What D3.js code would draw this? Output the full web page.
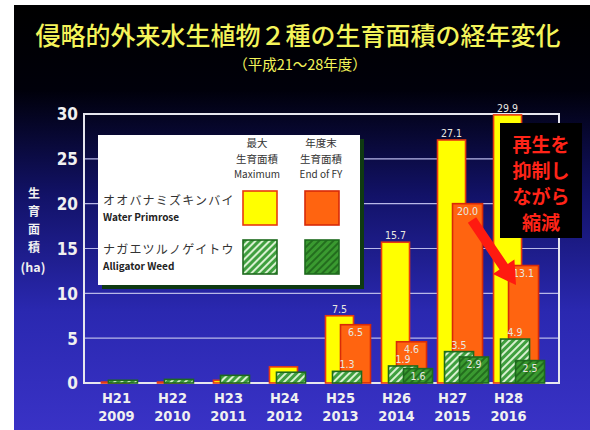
<!DOCTYPE html>
<html>
<head>
<meta charset="utf-8">
<script src="https://cdn.jsdelivr.net/npm/d3@7"></script>
<style>
  body { margin: 0; background: #fff; }
  svg { display: block; }
</style>
</head>
<body>
<svg class="chart"></svg>
<script>
// data
const categories = ["H21", "H22", "H23", "H24", "H25", "H26", "H27", "H28"];
const years = ["2009", "2010", "2011", "2012", "2013", "2014", "2015", "2016"];
const primroseMax = [0.1, 0.1, 0.3, 1.8, 7.5, 15.7, 27.1, 29.9];
const primroseEnd = [null, null, null, null, 6.5, 4.6, 20.0, 13.1];
const weedMax = [0.3, 0.4, 0.85, 1.2, 1.3, 1.9, 3.5, 4.9];
const weedEnd = [null, null, null, null, null, 1.6, 2.9, 2.5];
const yTicks = [0, 5, 10, 15, 20, 25, 30];
const labelFrom = 4; // value labels only shown from H25

const width = 590, height = 430;
const jp = '"Noto Sans CJK JP", sans-serif';
const num = '"DejaVu Sans Condensed", "Liberation Sans Narrow", sans-serif';

const svg = d3.select(".chart").attr("width", width).attr("height", height);
const defs = svg.append("defs");

let bg = defs.append("linearGradient").attr("id", "bg")
  .attr("x1", 0).attr("y1", 0).attr("x2", 0).attr("y2", 1);
bg.append("stop").attr("offset", "0").attr("stop-color", "#000000");
bg.append("stop").attr("offset", "0.2").attr("stop-color", "#00000a");
bg.append("stop").attr("offset", "0.45").attr("stop-color", "#121268");
bg.append("stop").attr("offset", "0.72").attr("stop-color", "#2a28b0");
bg.append("stop").attr("offset", "1").attr("stop-color", "#3932c6");

// hatch patterns
let makeHatch = function(id, base, stripe) {
  let p = defs.append("pattern").attr("id", id)
    .attr("patternUnits", "userSpaceOnUse")
    .attr("width", 5).attr("height", 5)
    .attr("patternTransform", "rotate(45)");
  p.append("rect").attr("width", 5).attr("height", 5).attr("fill", base);
  p.append("rect").attr("width", 2).attr("height", 5).attr("fill", stripe);
};
makeHatch("hatchLight", "#3f9f3f", "#d8f0d0");
makeHatch("hatchDark", "#3a9a30", "#236d1e");

// slide background (white margin on left/top)
svg.append("rect").attr("x", 14).attr("y", 5)
  .attr("width", width - 14).attr("height", height - 5)
  .attr("fill", "url(#bg)");

// title
svg.append("text").attr("x", 298).attr("y", 45)
  .attr("text-anchor", "middle")
  .attr("font-family", jp).attr("font-size", 25).attr("font-weight", 500)
  .attr("fill", "#f4f45a")
  .text("侵略的外来水生植物２種の生育面積の経年変化");
svg.append("text").attr("x", 300).attr("y", 70)
  .attr("text-anchor", "middle")
  .attr("font-family", jp).attr("font-size", 14.5)
  .attr("fill", "#f4f45a")
  .text("（平成21～28年度）");

// scales
const plotL = 84, plotR = 559, plotT = 114, plotB = 383;
const x = d3.scaleBand().domain(categories).range([plotL, plotR])
  .paddingInner(0).paddingOuter(0.24);
const y = d3.scaleLinear().domain([0, 30]).range([plotB, plotT]);

// gridlines
svg.append("g").selectAll("line").data(yTicks.slice(1, -1)).join("line")
  .attr("x1", plotL).attr("x2", plotR)
  .attr("y1", d => y(d)).attr("y2", d => y(d))
  .attr("stroke", "#b8b8e8").attr("stroke-width", 1.2);

// frame
svg.append("path")
  .attr("d", `M${plotL},${plotB}V${y(30)}H${plotR}V${plotB}Z`)
  .attr("fill", "none").attr("stroke", "#e6e6ee").attr("stroke-width", 2);

// y axis labels
const yAxis = svg.append("g").attr("transform", `translate(${plotL - 6},0)`)
  .call(d3.axisLeft(y).tickValues(yTicks).tickSize(0).tickPadding(0));
yAxis.select(".domain").remove();
yAxis.selectAll("text")
  .attr("font-family", num).attr("font-size", 17).attr("font-weight", "bold")
  .attr("fill", "#f0f0f0").attr("dy", "0.35em");

// y title
const yTitle = svg.append("g").attr("font-family", jp).attr("font-weight", "bold")
  .attr("fill", "#f0f0f0").attr("text-anchor", "middle");
["生", "育", "面", "積"].forEach((c, i) => {
  yTitle.append("text").attr("x", 34).attr("y", 198 + i * 18)
    .attr("font-size", 12).text(c);
});
yTitle.append("text").attr("x", 33).attr("y", 272).attr("font-size", 12.5).text("(ha)");

// x axis labels
const xg = svg.append("g").attr("font-family", num).attr("font-weight", "bold")
  .attr("fill", "#f0f0f0").attr("text-anchor", "middle").attr("font-size", 14.5);
categories.forEach((c, i) => {
  xg.append("text").attr("x", x(c) + 19).attr("y", 403).text(c);
  xg.append("text").attr("x", x(c) + 19).attr("y", 421).text(years[i]);
});

// bars
let drawBars = function(values, dx, w, fill, stroke) {
  let rows = values.map((v, i) => ({ c: categories[i], v: v, i: i }))
    .filter(d => d.v !== null);
  svg.append("g").selectAll("rect").data(rows).join("rect")
    .attr("x", d => x(d.c) + dx).attr("width", w)
    .attr("y", d => y(d.v)).attr("height", d => y(0) - y(d.v))
    .attr("fill", fill).attr("stroke", stroke).attr("stroke-width", 1.6);
  return rows;
};
const yRows = drawBars(primroseMax, 4, 28, "#ffff00", "#e83a10");
const oRows = drawBars(primroseEnd, 19, 30, "#ff6410", "#d82a08");
const lRows = drawBars(weedMax, 11, 29, "url(#hatchLight)", "#1d6a1d");
const dRows = drawBars(weedEnd, 26, 29, "url(#hatchDark)", "#1d6a1d");

// value labels
let drawLabels = function(rows, dx, w, inside) {
  svg.append("g").selectAll("text").data(rows.filter(d => d.i >= labelFrom)).join("text")
    .attr("x", d => x(d.c) + dx + w / 2)
    .attr("y", d => inside ? y(d.v) + 11 : y(d.v) - 3)
    .attr("text-anchor", "middle")
    .attr("font-family", num).attr("font-size", 10.5)
    .attr("fill", "#e8e8e0")
    .text(d => d.v.toFixed(1));
};
drawLabels(yRows, 4, 28, false);
drawLabels(oRows, 19, 30, true);
drawLabels(lRows, 11, 29, false);
drawLabels(dRows, 26, 29, true);

// legend
svg.append("rect").attr("x", 102).attr("y", 139).attr("width", 262).attr("height", 150)
  .attr("fill", "#0f3a12");
svg.append("rect").attr("x", 98).attr("y", 135).attr("width", 262).attr("height", 150)
  .attr("fill", "#ffffff");
const lg = svg.append("g").attr("font-family", jp).attr("fill", "#333");
[["最大", "生育面積", "Maximum", 257], ["年度末", "生育面積", "End of FY", 321]].forEach(h => {
  lg.append("text").attr("x", h[3]).attr("y", 147).attr("text-anchor", "middle")
    .attr("font-size", 10.5).text(h[0]);
  lg.append("text").attr("x", h[3]).attr("y", 163).attr("text-anchor", "middle")
    .attr("font-size", 10.5).text(h[1]);
  lg.append("text").attr("x", h[3]).attr("y", 178).attr("text-anchor", "middle")
    .attr("font-size", 10).text(h[2]);
});
const legendRows = [
  ["オオバナミズキンバイ", "Water Primrose", 191, "#ffff00", "#ff6410", "#e83a10", "#d82a08"],
  ["ナガエツルノゲイトウ", "Alligator Weed", 240, "url(#hatchLight)", "url(#hatchDark)", "#1d6a1d", "#1d6a1d"]
];
legendRows.forEach(r => {
  lg.append("text").attr("x", 103).attr("y", r[2] + 14).attr("font-size", 12)
    .attr("letter-spacing", 1.2).text(r[0]);
  lg.append("text").attr("x", 103).attr("y", r[2] + 30).attr("font-size", 10)
    .attr("font-weight", "bold").attr("fill", "#222").text(r[1]);
  lg.append("rect").attr("x", 243).attr("y", r[2]).attr("width", 34).attr("height", 34)
    .attr("fill", r[3]).attr("stroke", r[5]).attr("stroke-width", 1.6);
  lg.append("rect").attr("x", 305).attr("y", r[2]).attr("width", 34).attr("height", 34)
    .attr("fill", r[4]).attr("stroke", r[6]).attr("stroke-width", 1.6);
});

// annotation box
svg.append("rect").attr("x", 500).attr("y", 123).attr("width", 82).attr("height", 115)
  .attr("fill", "#000");
const note = svg.append("g").attr("font-family", jp).attr("font-weight", "bold")
  .attr("font-size", 19).attr("fill", "#ff2418").attr("text-anchor", "middle");
["再生を", "抑制し", "ながら", "縮減"].forEach((t, i) => {
  note.append("text").attr("x", 541).attr("y", 152 + i * 26).text(t);
});

// arrow
const ax0 = 472, ay0 = 220, ax1 = 516, ay1 = 285;
const len = Math.hypot(ax1 - ax0, ay1 - ay0);
const ux = (ax1 - ax0) / len, uy = (ay1 - ay0) / len;
const headLen = 22, headW = 13, shaftW = 5;
const bx = ax1 - ux * headLen, by = ay1 - uy * headLen;
const pts = [
  [ax0 - uy * shaftW, ay0 + ux * shaftW],
  [bx - uy * shaftW, by + ux * shaftW],
  [bx - uy * headW, by + ux * headW],
  [ax1, ay1],
  [bx + uy * headW, by - ux * headW],
  [bx + uy * shaftW, by - ux * shaftW],
  [ax0 + uy * shaftW, ay0 - ux * shaftW]
];
svg.append("path").attr("d", "M" + pts.map(p => p.join(",")).join("L") + "Z")
  .attr("fill", "#ff1a10");
</script>
</body>
</html>
